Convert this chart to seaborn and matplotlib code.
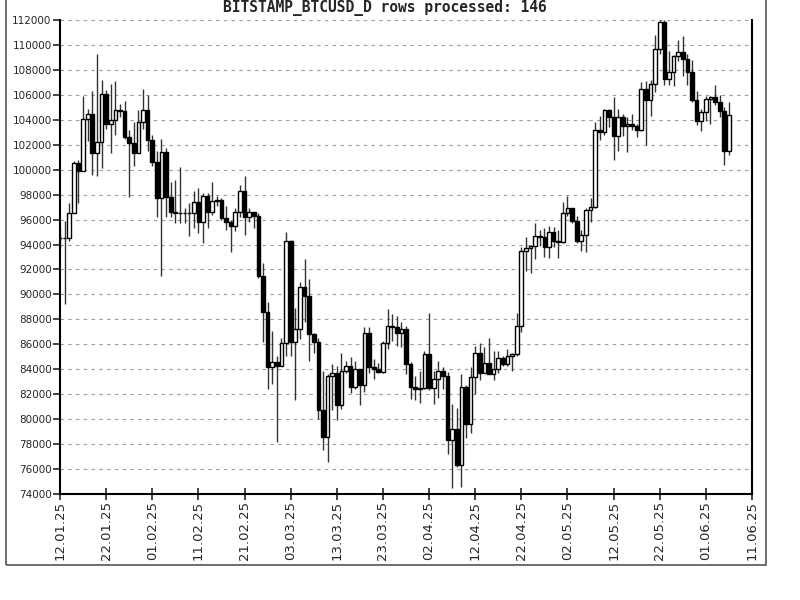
import pandas as pd
import matplotlib
matplotlib.use("Agg")
import matplotlib.pyplot as plt
import matplotlib.dates as mdates
import matplotlib.patches as patches
import seaborn as sns

sns.set_style("white")
plt.rcParams['font.family'] = ['DejaVu Sans']

# Daily OHLC, 12.01.25 .. 06.06.25 (146 rows)
opens = [94560, 94500, 94500, 96500, 100500, 99900, 104100, 104500, 101300, 102200,
         106100, 103700, 104000, 104800, 104700, 102600, 102100, 101300, 103800, 104800,
         102400, 100600, 97700, 101400, 97800, 96600, 96500, 96500, 96500, 96500,
         97400, 95800, 97900, 96600, 97500, 97600, 96100, 95800, 95500, 96600,
         98300, 96200, 96600, 96300, 91500, 88600, 84200, 84600,
         84300, 86100, 94300, 86200, 87200, 90600, 89900, 86800, 86200, 80700,
         78600, 83500, 83700, 81100, 83900, 84300, 82600, 84000, 82700, 86900,
         84200, 84000, 83800, 86100, 87500, 87400, 86900, 87200, 84400, 82600,
         82400,
         82500, 85200, 82500, 83200, 83900, 83500, 78300, 79200, 76300, 82600,
         79600, 83400, 85300, 83700, 84500, 83600, 84000, 84900, 84400, 85100,
         85200, 87500, 93500, 93700, 93900, 94700, 94600, 93800, 95000, 94300,
         94200, 96500, 96900, 95900, 94300, 94800, 96800, 97000, 103200, 103000,
         104800, 104200, 102700, 104200, 103500, 103700, 103500, 103200, 106500, 105600,
         106900, 109700, 111800, 107300, 107800, 109100, 109400, 108900, 107800, 105600,
         103900,
         104600, 105700, 105800, 105400, 104700, 101500]
highs = [95400, 95900, 97300, 100700, 100800, 105900, 104900, 106300, 109300, 107200,
         106400, 106900, 107100, 105300, 105500, 103200, 103800, 104800, 106500, 106000,
         102800, 101500, 102500, 101700, 99000, 99200, 100200, 96900, 97300, 98300,
         98500, 98100, 98100, 99000, 97900, 97700, 97100, 96000, 96900, 98800,
         99500, 96900, 96600, 96500, 92500, 89400, 87100, 85100,
         86500, 95000, 94400, 88900, 91000, 92800, 91200, 86900, 86500, 83900,
         83600, 84400, 84300, 85300, 84700, 85000, 84700, 84000, 87400, 87400,
         84800, 84500, 86300, 88800, 88400, 88300, 87800, 87500, 84600, 83500,
         83900,
         85500, 88500, 83900, 84700, 84200, 83800, 81200, 80900, 83600, 82700,
         84200, 85900, 86100, 85800, 86500, 85500, 85500, 85100, 85600, 85300,
         88500, 93800, 94600, 94000, 95700, 95200, 95300, 95500, 95400, 95200,
         97400, 97900, 96900, 96300, 95200, 96900, 97700, 103800, 104300, 104900,
         104900, 105800, 104900, 104500, 104200, 104500, 103700, 107000, 107100, 107200,
         110800, 112000, 112000, 109500, 109200, 110400, 110700, 109300, 108800, 106300,
         104900,
         105900, 105900, 106800, 106000, 105000, 105400]
lows = [93700, 89200, 94300, 96500, 97300, 99900, 102300, 99600, 99500, 100100,
        103300, 101300, 102800, 104200, 102500, 97800, 100300, 101300, 103300, 101500,
        100300, 96200, 91500, 96200, 96200, 95700, 95700, 95700, 94700, 95300,
        94900, 94100, 95300, 96400, 97100, 96000, 95200, 93400, 95100, 96200,
        94800, 95800, 95300, 91300, 86200, 82400, 82800, 78200,
        84300, 85100, 85100, 81500, 86400, 87800, 84700, 85300, 80000, 77500,
        76600, 80700, 79900, 80800, 83700, 82100, 82400, 81100, 82200, 83700,
        83200, 83700, 83700, 85600, 86300, 85900, 85800, 83600, 81600, 81500,
        81300,
        82400, 82300, 81200, 81700, 82400, 77200, 74500, 76200, 74600, 78500,
        78900, 82000, 83100, 83700, 83600, 83100, 83700, 84300, 84300, 83900,
        85100, 87000, 91900, 91700, 92800, 93900, 93000, 92900, 93800, 92900,
        94100, 96300, 95700, 94100, 93500, 93400, 95800, 96900, 102400, 102800,
        103400, 100800, 101500, 102700, 101400, 103200, 102600, 103100, 102000, 104300,
        106200, 109300, 106800, 106800, 106700, 108700, 107500, 106800, 105400, 103600,
        103100,
        103900, 103700, 105200, 104200, 100400, 101200]
closes = [94500, 94500, 96500, 100500, 99900, 104100, 104500, 101300, 102200, 106100,
          103700, 104000, 104800, 104700, 102600, 102100, 101300, 103800, 104800, 102400,
          100600, 97700, 101400, 97800, 96600, 96500, 96500, 96500, 96500, 97400,
          95800, 97900, 96600, 97500, 97600, 96100, 95800, 95500, 96600, 98300,
          96200, 96600, 96300, 91500, 88600, 84200, 84600, 84300,
          86100, 94300, 86200, 87200, 90600, 89900, 86800, 86200, 80700, 78600,
          83500, 83700, 81100, 83900, 84300, 82600, 84000, 82700, 86900, 84200,
          84000, 83800, 86100, 87500, 87400, 86900, 87200, 84400, 82600, 82400,
          82500,
          85200, 82500, 83200, 83900, 83500, 78300, 79200, 76300, 82600, 79600,
          83400, 85300, 83700, 84500, 83600, 84000, 84900, 84400, 85100, 85200,
          87500, 93500, 93700, 93900, 94700, 94600, 93800, 95000, 94300, 94200,
          96500, 96900, 95900, 94300, 94800, 96800, 97000, 103200, 103000, 104800,
          104200, 102700, 104200, 103500, 103700, 103500, 103200, 106500, 105600, 106900,
          109700, 111800, 107300, 107800, 109100, 109400, 108900, 107800, 105600, 103900,
          104600,
          105700, 105800, 105400, 104700, 101500, 104400]

df = pd.DataFrame({'Open': opens, 'High': highs, 'Low': lows, 'Close': closes})
df['Date'] = pd.date_range('2025-01-12', periods=len(df), freq='D')
df['Up'] = df['Close'] >= df['Open']
df['Bottom'] = df[['Open', 'Close']].min(axis=1)
df['Body'] = (df['Close'] - df['Open']).abs()

fig = plt.figure(figsize=(8, 6), dpi=100)
ax = fig.add_axes([60 / 800, 106 / 600, 692 / 800, 474 / 600])

# wicks then bodies
ax.vlines(df['Date'], df['Low'], df['High'], color='#333333', linewidth=1, zorder=2)
ax.bar(df['Date'], df['Body'], bottom=df['Bottom'], width=0.8,
       color=['white' if u else 'black' for u in df['Up']],
       edgecolor='black', linewidth=1, zorder=3)

ax.set_ylim(74000, 112000)
ax.set_yticks(range(74000, 112001, 2000))
ax.set_xlim(pd.Timestamp('2025-01-12'), pd.Timestamp('2025-06-11'))
ax.set_xticks(pd.date_range('2025-01-12', '2025-06-11', freq='10D'))
ax.xaxis.set_major_formatter(mdates.DateFormatter('%d.%m.%y'))
plt.setp(ax.get_xticklabels(), rotation=90, fontsize=9.5)
plt.setp(ax.get_yticklabels(), fontsize=7.5)

ax.tick_params(axis='y', direction='out', length=5, width=1.2, pad=1, left=True)
ax.tick_params(axis='x', direction='inout', length=8, width=1.2, pad=1, bottom=True)

ax.set_axisbelow(True)
ax.yaxis.grid(True, color='#999999', linestyle=(0, (3, 4)), linewidth=0.8)
ax.xaxis.grid(False)

for side in ['left', 'bottom', 'right']:
    ax.spines[side].set_color('black')
    ax.spines[side].set_linewidth(1.5)
ax.spines['top'].set_visible(False)

fig.text(385 / 800, 1 - 8 / 600, 'BITSTAMP_BTCUSD_D rows processed: 146',
         family='DejaVu Sans Mono', weight='bold', fontsize=10.5,
         ha='center', va='center')

fig.patches.append(patches.Rectangle((6 / 800, 35 / 600), 760 / 800, 570 / 600,
                                     transform=fig.transFigure, fill=False,
                                     edgecolor='#555555', linewidth=1.2))

fig.savefig('out.png', dpi=100, facecolor='white')
